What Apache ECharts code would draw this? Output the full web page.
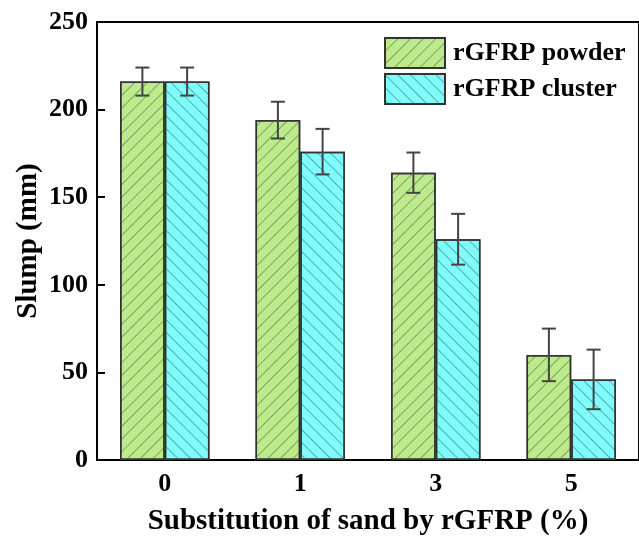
<!DOCTYPE html>
<html>
<head>
<meta charset="utf-8">
<script src="https://cdn.jsdelivr.net/npm/echarts@6/dist/echarts.min.js"></script>
<style>html,body{margin:0;padding:0;background:#fff;}#c{width:639px;height:541px;}</style>
</head>
<body>
<div id="c"></div>
<script>
var categories = ['0', '1', '3', '5'];
var powder = [216, 194, 164, 60];
var powderErr = [8, 10.5, 11.5, 15];
var cluster = [216, 176, 126, 46];
var clusterErr = [8, 13, 14.5, 17];
var yTicks = [0, 50, 100, 150, 200, 250];

var FONT = '"Liberation Serif", "Times New Roman", serif';
var CAT_GAP = 0.34;

function errSeries(vals, errs, side) {
  var data = vals.map(function (v, i) { return [i, v - errs[i], v + errs[i]]; });
  return {
    type: 'custom',
    z: 10,
    silent: true,
    data: data,
    renderItem: function (params, api) {
      var i = api.value(0);
      var band = api.size([1, 0])[0];
      var bw = band * (1 - CAT_GAP) / 2;
      var lo = api.coord([i, api.value(1)]);
      var hi = api.coord([i, api.value(2)]);
      var x = lo[0] + side * bw / 2;
      var cap = 7;
      var st = { stroke: '#444', lineWidth: 2, fill: null };
      return {
        type: 'group',
        children: [
          { type: 'line', shape: { x1: x, y1: lo[1], x2: x, y2: hi[1] }, style: st },
          { type: 'line', shape: { x1: x - cap, y1: lo[1], x2: x + cap, y2: lo[1] }, style: st },
          { type: 'line', shape: { x1: x - cap, y1: hi[1], x2: x + cap, y2: hi[1] }, style: st }
        ]
      };
    }
  };
}

var chart = echarts.init(document.getElementById('c'), null, { renderer: 'canvas' });
chart.setOption({
  backgroundColor: '#fff',
  animation: false,
  aria: { enabled: false },
  grid: {
    left: 97, top: 22, width: 546, height: 443,
    show: true, borderColor: '#000', borderWidth: 2, backgroundColor: 'transparent'
  },
  legend: {
    left: 384, top: 37, orient: 'vertical', padding: 0,
    itemWidth: 60, itemHeight: 30, itemGap: 4,
    icon: 'rect',
    textStyle: { fontFamily: FONT, fontWeight: 'bold', fontSize: 26, color: '#000', padding: [0, 0, 0, 3] },
    data: ['rGFRP powder', 'rGFRP cluster']
  },
  xAxis: {
    type: 'category',
    data: categories,
    name: 'Substitution of sand by rGFRP (%)',
    nameLocation: 'middle',
    nameGap: 47,
    nameTextStyle: { fontFamily: FONT, fontWeight: 'bold', fontSize: 29, color: '#000' },
    axisLine: { lineStyle: { color: '#000', width: 2 } },
    axisTick: { show: false },
    axisLabel: { fontFamily: FONT, fontWeight: 'bold', fontSize: 26, color: '#000', margin: 11 },
    splitLine: { show: false }
  },
  yAxis: {
    type: 'value',
    min: 0, max: 250, interval: 50,
    name: 'Slump (mm)',
    nameLocation: 'middle',
    nameGap: 54,
    nameMoveOverlap: false,
    nameTextStyle: { fontFamily: FONT, fontWeight: 'bold', fontSize: 29, color: '#000' },
    axisLine: { show: true, lineStyle: { color: '#000', width: 2 } },
    axisTick: { show: true, inside: true, length: 8, lineStyle: { color: '#000', width: 2 } },
    axisLabel: { fontFamily: FONT, fontWeight: 'bold', fontSize: 26, color: '#000', margin: 9 },
    splitLine: { show: false }
  },
  series: [
    {
      name: 'rGFRP powder', type: 'bar', data: powder,
      barGap: 0, barCategoryGap: (CAT_GAP * 100) + '%',
      itemStyle: {
        color: '#bdeb8c', borderColor: '#333', borderWidth: 1.5,
        decal: { symbol: 'rect', symbolSize: 1, dashArrayX: [1, 0], dashArrayY: [1, 8], rotation: -Math.PI / 4, color: 'rgba(70,90,60,0.5)' }
      }
    },
    {
      name: 'rGFRP cluster', type: 'bar', data: cluster,
      itemStyle: {
        color: '#7ffcfc', borderColor: '#333', borderWidth: 1.5,
        decal: { symbol: 'rect', symbolSize: 1, dashArrayX: [1, 0], dashArrayY: [1, 8], rotation: Math.PI / 4, color: 'rgba(50,110,110,0.55)' }
      }
    },
    errSeries(powder, powderErr, -1),
    errSeries(cluster, clusterErr, 1)
  ]
});
</script>
</body>
</html>
